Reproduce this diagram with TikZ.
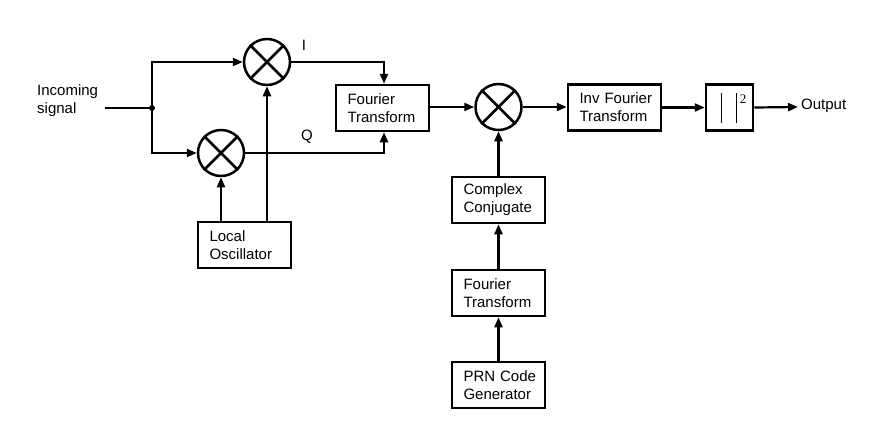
\documentclass[tikz,border=0pt]{standalone}
\usepackage{fontspec}
\setmainfont{Liberation Sans}
\newfontfamily\serifnum{Liberation Serif}
\usetikzlibrary{arrows.meta}
\begin{document}
\begin{tikzpicture}[x=1pt,y=-1pt,
  every node/.style={font=\fontsize{15}{18}\selectfont},
  blk/.style={draw,line width=2.5pt,minimum width=93pt,minimum height=46pt,inner xsep=0pt,text width=70pt,align=left},
  mixer/.style={draw,circle,line width=2.5pt,minimum size=46pt,inner sep=0pt},
  conn/.style={line width=2.2pt},
  arr/.style={line width=2.2pt,-{Triangle[length=10pt,width=8pt]}}]
\useasboundingbox (0,0) rectangle (880,424);
% mixers
\node[mixer] (m1) at (267,62) {};
\node[mixer] (m2) at (221,153) {};
\node[mixer] (m3) at (498.5,107) {};
\foreach \m in {m1,m2,m3}{
  \draw[line width=2.5pt] (\m.north east) -- (\m.south west);
  \draw[line width=2.5pt] (\m.north west) -- (\m.south east);
}
% boxes
\node[blk] (ft) at (382.5,108) {\mbox{Fourier}\\\mbox{Transform}};
\node[blk] (lo) at (244.5,245) {\mbox{Local}\\\mbox{Oscillator}};
\node[blk] (ift) at (614.5,107.5) {\mbox{Inv Fourier}\\\mbox{Transform}};
\node[draw,line width=2.5pt,minimum width=47pt,minimum height=46pt,inner sep=0pt] (abs) at (729.5,107.5) {};
\node[blk] (cc) at (498.5,200) {\mbox{Complex}\\\mbox{Conjugate}};
\node[blk] (ft2) at (498.5,293) {\mbox{Fourier}\\\mbox{Transform}};
\node[blk] (prn) at (498.5,385) {\mbox{PRN Code}\\\mbox{Generator}};
% abs bars and exponent
\draw[line width=1pt] ([xshift=-8.5pt,yshift=-15pt]abs.center) -- ([xshift=-8.5pt,yshift=15pt]abs.center);
\draw[line width=1pt] ([xshift=6.5pt,yshift=-15pt]abs.center) -- ([xshift=6.5pt,yshift=15pt]abs.center);
\node[font=\serifnum\fontsize{13}{13}\selectfont,inner sep=0pt] (sq) at (743,99) {2};
% texts
\node[anchor=west,align=left,inner sep=0pt] (inc) at (37,101) {Incoming\\signal};
\node[inner sep=0pt] (ilab) at (304,45) {I};
\node[inner sep=0pt] (qlab) at (307,137) {Q};
\node[anchor=west,inner sep=0pt] (out) at (801,106) {Output};
% coordinates
\coordinate (start) at (105,108);
\coordinate (j) at (152,108);
\coordinate (outend) at (798,107);
\fill (j) circle (3pt);
% connectors
\draw[conn] (start) -- (j);
\draw[arr] (j) |- (m1.west);
\draw[arr] (j) |- (m2.west);
\draw[arr] (m1.east) -| ([xshift=1.5pt]ft.north);
\draw[arr] (m2.east) -| ([xshift=1.5pt]ft.south);
\draw[arr] (lo.north -| m2.south) -- (m2.south);
\draw[arr] (lo.north -| m1.south) -- (m1.south);
\draw[arr] (ft.east |- m3.west) -- (m3.west);
\draw[arr] (m3.east) -- (m3.east -| ift.west);
\draw[arr] (ift.east) -- (abs.west);
\draw[arr] (abs.east) -- (outend);
\draw[arr] (cc.north) -- (m3.south);
\draw[arr] (ft2.north) -- (cc.south);
\draw[arr] (prn.north) -- (ft2.south);
\end{tikzpicture}
\end{document}
